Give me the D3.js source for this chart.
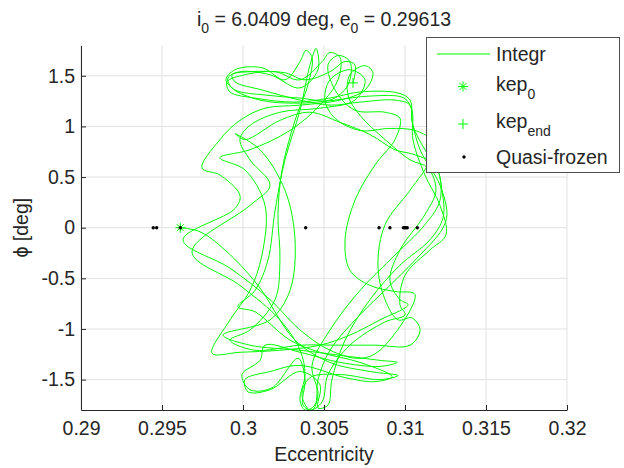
<!DOCTYPE html>
<html>
<head>
<meta charset="utf-8">
<script src="https://cdn.jsdelivr.net/npm/d3@7"></script>
<style>
  body { margin: 0; background: #fff; }
  text { font-family: "Liberation Sans", Arial, Helvetica, sans-serif; fill: #262626; }
</style>
</head>
<body>
<div id="container"></div>
<script>
let eTicks = [0.29, 0.295, 0.3, 0.305, 0.31, 0.315, 0.32];
let phiTicks = [-1.5, -1, -0.5, 0, 0.5, 1, 1.5];

let kep0 = [0.29613, 0];
let kepEnd = [0.30679, 1.43];

// quasi-frozen solutions, all at phi = 0
let frozenE = [0.29446, 0.29467, 0.29613, 0.30387, 0.30840, 0.30907, 0.30990, 0.30998, 0.31006, 0.31014, 0.31076];

// integrated trajectory [e, phi(deg)]
let integrPath = [
  [0.29613, 0.00], [0.29735, -0.04], [0.29889, -0.22], [0.30093, -0.57], [0.30321, -1.11],
  [0.30537, -1.33], [0.30784, -1.42], [0.30957, -1.46], [0.30846, -1.50], [0.30599, -1.45],
  [0.30414, -1.48], [0.30364, -1.65], [0.30414, -1.80], [0.30488, -1.72], [0.30525, -1.45],
  [0.30660, -1.16], [0.30877, -0.93], [0.31000, -0.86], [0.30969, -0.76], [0.31000, -0.47],
  [0.31154, -0.22], [0.31253, -0.07], [0.31216, 0.22], [0.31123, 0.52], [0.31049, 0.87],
  [0.31043, 1.16], [0.30994, 1.28], [0.30784, 1.30], [0.30568, 1.26], [0.30352, 1.23],
  [0.30105, 1.26], [0.29932, 1.38], [0.29907, 1.48], [0.29981, 1.54], [0.30167, 1.51],
  [0.30352, 1.38], [0.30463, 1.56], [0.30451, 1.77], [0.30414, 1.61], [0.30352, 1.16],
  [0.30259, 0.67], [0.30198, 0.17], [0.30154, -0.32], [0.30074, -0.62], [0.29969, -0.78],
  [0.30074, -0.83], [0.30290, -1.11],
  [0.30475, -1.23], [0.30722, -1.33], [0.30920, -1.47], [0.30815, -1.52], [0.30630, -1.48],
  [0.30352, -1.36], [0.30167, -1.42], [0.30012, -1.50], [0.30031, -1.62], [0.30167, -1.60],
  [0.30352, -1.42], [0.30475, -1.55], [0.30463, -1.78], [0.30525, -1.75], [0.30549, -1.50],
  [0.30630, -1.11], [0.30784, -0.71], [0.30969, -0.37], [0.31154, -0.12], [0.31235, 0.10],
  [0.31228, 0.37],
  [0.31185, 0.62], [0.31062, 0.72], [0.30938, 0.77], [0.30784, 0.92], [0.30599, 1.04],
  [0.30414, 1.14], [0.30228, 1.06], [0.30012, 0.87], [0.29951, 0.93], [0.30105, 0.77],
  [0.30259, 0.37], [0.30321, -0.12], [0.30290, -0.62], [0.30167, -0.91], [0.29877, -1.06],
  [0.30043, -1.16], [0.30352, -1.21],
  [0.30599, -1.26], [0.30846, -1.31], [0.30951, -1.33], [0.30846, -1.37], [0.30599, -1.33],
  [0.30352, -1.23], [0.30136, -1.16], [0.30105, -1.31], [0.29994, -1.45], [0.30043, -1.60],
  [0.30179, -1.58], [0.30340, -1.29], [0.30383, -1.50], [0.30370, -1.75], [0.30426, -1.80],
  [0.30463, -1.65], [0.30426, -1.36], [0.30537, -1.01], [0.30722, -0.62], [0.30938, -0.27],
  [0.31123, 0.03], [0.31216, 0.27], [0.31204, 0.57], [0.31123, 0.77], [0.31049, 1.01],
  [0.31031, 1.26], [0.30957, 1.33], [0.30722, 1.34], [0.30537, 1.28], [0.30321, 1.24],
  [0.30074, 1.28], [0.29920, 1.34], [0.29901, 1.44], [0.30012, 1.51], [0.30198, 1.54],
  [0.30352, 1.46], [0.30488, 1.64], [0.30537, 1.73], [0.30599, 1.68], [0.30586, 1.46],
  [0.30475, 1.21], [0.30290, 0.96], [0.30043, 0.77], [0.29858, 0.69], [0.30012, 0.57],
  [0.30136, 0.22], [0.30117, -0.27], [0.30043, -0.62], [0.29920, -0.91], [0.29809, -1.24],
  [0.29981, -1.23], [0.30228, -1.21],
  [0.30475, -1.16], [0.30660, -1.06], [0.30846, -0.91], [0.31019, -0.76], [0.30969, -0.71],
  [0.30907, -0.52], [0.30969, -0.22], [0.31123, 0.13], [0.31191, 0.37], [0.31142, 0.59],
  [0.31031, 0.67], [0.30877, 0.87], [0.30722, 1.11], [0.30648, 1.31], [0.30660, 1.51],
  [0.30753, 1.60], [0.30802, 1.53], [0.30753, 1.36], [0.30599, 1.26], [0.30352, 1.21],
  [0.30136, 1.18], [0.29981, 1.06], [0.29858, 0.87], [0.29747, 0.59], [0.29858, 0.52],
  [0.29981, 0.32], [0.29951, 0.19], [0.29630, -0.12], [0.29920, -0.40], [0.30167, -0.71],
  [0.30352, -1.01], [0.30537, -1.21],
  [0.30722, -1.29], [0.30846, -1.21], [0.31062, -0.66], [0.30938, -0.63], [0.30784, -0.57],
  [0.30660, -0.42], [0.30630, -0.12], [0.30691, 0.27], [0.30815, 0.62], [0.30938, 0.87],
  [0.30969, 1.08], [0.30877, 1.14], [0.30691, 1.16], [0.30568, 1.36], [0.30525, 1.61],
  [0.30586, 1.70], [0.30660, 1.64], [0.30648, 1.41], [0.30537, 1.26], [0.30352, 1.28],
  [0.30136, 1.31], [0.29951, 1.36], [0.29895, 1.46], [0.29951, 1.56], [0.30117, 1.58],
  [0.30259, 1.46], [0.30352, 1.64], [0.30389, 1.75], [0.30426, 1.68], [0.30401, 1.41],
  [0.30321, 1.06], [0.30241, 0.57], [0.30216, 0.13], [0.30228, -0.32], [0.30198, -0.71],
  [0.30043, -1.01], [0.29920, -1.11], [0.30074, -1.21], [0.30352, -1.16],
  [0.30599, -1.16], [0.30815, -1.16], [0.31031, -1.16], [0.31093, -1.01], [0.31043, -0.89],
  [0.30957, -0.91], [0.30877, -0.71], [0.30833, -0.37], [0.30877, 0.03], [0.31031, 0.37],
  [0.31154, 0.67], [0.31154, 0.87], [0.31062, 0.96], [0.30907, 0.98], [0.30722, 0.96],
  [0.30568, 1.08], [0.30506, 1.26], [0.30537, 1.46], [0.30660, 1.56], [0.30753, 1.46],
  [0.30691, 1.26], [0.30475, 1.18], [0.30228, 1.14], [0.30043, 1.01], [0.29981, 0.87],
  [0.30043, 0.67], [0.30167, 0.42], [0.30043, 0.22], [0.29685, -0.24], [0.29981, -0.57],
  [0.30228, -0.91], [0.30352, -1.21], [0.30383, -1.45], [0.30352, -1.70], [0.30383, -1.80],
  [0.30444, -1.75], [0.30463, -1.50],
  [0.30537, -1.21], [0.30722, -0.86], [0.30907, -0.57], [0.31093, -0.27], [0.31228, -0.02],
  [0.31259, 0.13], [0.31216, 0.42], [0.31093, 0.77], [0.31043, 1.06], [0.31031, 1.21],
  [0.30938, 1.26], [0.30722, 1.24], [0.30537, 1.21], [0.30352, 1.26], [0.30117, 1.36],
  [0.29951, 1.44], [0.29932, 1.51], [0.30043, 1.54], [0.30259, 1.53], [0.30383, 1.46],
  [0.30537, 1.54], [0.30630, 1.64], [0.30691, 1.61], [0.30679, 1.43]
];

let margin = {top: 45.4, right: 57, bottom: 58, left: 81},
    width = 624 - margin.left - margin.right,
    height = 468 - margin.top - margin.bottom;

let svg = d3.select('#container').append("svg")
    .attr("width", 624)
    .attr("height", 468);

let viz = svg.append("g")
    .attr("transform", "translate(" + margin.left + "," + margin.top + ")");

let xScale = d3.scaleLinear().domain([0.29, 0.32]).range([0, width]);
let yScale = d3.scaleLinear().domain([-1.8, 1.8]).range([height, 0]);

let axisColor = "#262626";

// grid
viz.append("g").selectAll("line").data(eTicks).enter().append("line")
    .attr("x1", d => xScale(d)).attr("x2", d => xScale(d))
    .attr("y1", 0).attr("y2", height)
    .attr("stroke", "#e1e1e1").attr("stroke-width", 1);
viz.append("g").selectAll("line").data(phiTicks).enter().append("line")
    .attr("x1", 0).attr("x2", width)
    .attr("y1", d => yScale(d)).attr("y2", d => yScale(d))
    .attr("stroke", "#e1e1e1").attr("stroke-width", 1);

// trajectory
viz.append("clipPath").attr("id", "clip")
  .append("rect").attr("width", width).attr("height", height);

let line = d3.line()
    .x(d => xScale(d[0]))
    .y(d => yScale(d[1]))
    .curve(d3.curveCatmullRom.alpha(0.5));

viz.append("path")
    .datum(integrPath)
    .attr("clip-path", "url(#clip)")
    .attr("fill", "none")
    .attr("stroke", "#00ff00")
    .attr("stroke-width", 1)
    .attr("d", line);

// markers
function asterisk(s) {
  let d = s * 0.7;
  return "M" + (-s) + ",0H" + s + "M0," + (-s) + "V" + s +
         "M" + (-d) + "," + (-d) + "L" + d + "," + d +
         "M" + (-d) + "," + d + "L" + d + "," + (-d);
}
function plus(s) {
  return "M" + (-s) + ",0H" + s + "M0," + (-s) + "V" + s;
}

viz.append("path")
    .attr("transform", "translate(" + xScale(kep0[0]) + "," + yScale(kep0[1]) + ")")
    .attr("d", asterisk(5)).attr("stroke", "#00ff00").attr("stroke-width", 1).attr("fill", "none");

viz.append("path")
    .attr("transform", "translate(" + xScale(kepEnd[0]) + "," + yScale(kepEnd[1]) + ")")
    .attr("d", plus(5)).attr("stroke", "#00ff00").attr("stroke-width", 1).attr("fill", "none");

viz.append("g").selectAll("circle").data(frozenE).enter().append("circle")
    .attr("cx", d => xScale(d)).attr("cy", yScale(0))
    .attr("r", 1.7).attr("fill", "#000");

// axes
let xAxis = d3.axisBottom(xScale).tickValues(eTicks).tickSizeInner(-5).tickSizeOuter(0).tickPadding(11)
    .tickFormat(d => String(d));
let yAxis = d3.axisLeft(yScale).tickValues(phiTicks).tickSizeInner(-5).tickSizeOuter(0).tickPadding(6)
    .tickFormat(d => String(d));

let xg = viz.append("g").attr("transform", "translate(0," + height + ")").call(xAxis);
let yg = viz.append("g").call(yAxis);
[xg, yg].forEach(g => {
  g.select(".domain").attr("stroke", axisColor);
  g.selectAll(".tick line").attr("stroke", axisColor);
  g.selectAll(".tick text").attr("font-size", 19.5).attr("fill", axisColor)
    .style("font-family", '"Liberation Sans", Arial, sans-serif');
});

svg.append("text")
    .attr("x", margin.left + width / 2).attr("y", 461)
    .attr("text-anchor", "middle").attr("font-size", 19.5)
    .text("Eccentricity");

svg.append("text")
    .attr("transform", "translate(28," + (margin.top + yScale(0)) + ") rotate(-90)")
    .attr("text-anchor", "middle").attr("font-size", 19.5)
    .text("\u03D5 [deg]");

// title
let title = svg.append("text")
    .attr("x", margin.left + width / 2).attr("y", 26)
    .attr("text-anchor", "middle").attr("font-size", 19.5);
title.append("tspan").text("i");
title.append("tspan").attr("dy", 7).attr("font-size", 14).text("0");
title.append("tspan").attr("dy", -7).text(" = 6.0409 deg, e");
title.append("tspan").attr("dy", 7).attr("font-size", 14).text("0");
title.append("tspan").attr("dy", -7).text(" = 0.29613");

// legend
let legend = svg.append("g");
legend.append("rect")
    .attr("x", 426.5).attr("y", 37.5).attr("width", 193).attr("height", 135)
    .attr("fill", "#fff").attr("stroke", "#4d4d4d").attr("stroke-width", 1);

legend.append("line")
    .attr("x1", 437).attr("x2", 490).attr("y1", 54).attr("y2", 54)
    .attr("stroke", "#00ff00").attr("stroke-width", 1);
legend.append("text").attr("x", 496).attr("y", 61).attr("font-size", 19.5).text("Integr");

legend.append("path").attr("transform", "translate(463,86.5)")
    .attr("d", asterisk(5)).attr("stroke", "#00ff00").attr("fill", "none");
let t0 = legend.append("text").attr("x", 496).attr("y", 91).attr("font-size", 19.5);
t0.append("tspan").text("kep");
t0.append("tspan").attr("dy", 8).attr("font-size", 14).text("0");

legend.append("path").attr("transform", "translate(463,124)")
    .attr("d", plus(5)).attr("stroke", "#00ff00").attr("fill", "none");
let t1 = legend.append("text").attr("x", 496).attr("y", 128).attr("font-size", 19.5);
t1.append("tspan").text("kep");
t1.append("tspan").attr("dy", 8).attr("font-size", 14).text("end");

legend.append("circle").attr("cx", 464).attr("cy", 157).attr("r", 1.7).attr("fill", "#000");
legend.append("text").attr("x", 496).attr("y", 164).attr("font-size", 19.5).text("Quasi-frozen");
</script>
</body>
</html>
